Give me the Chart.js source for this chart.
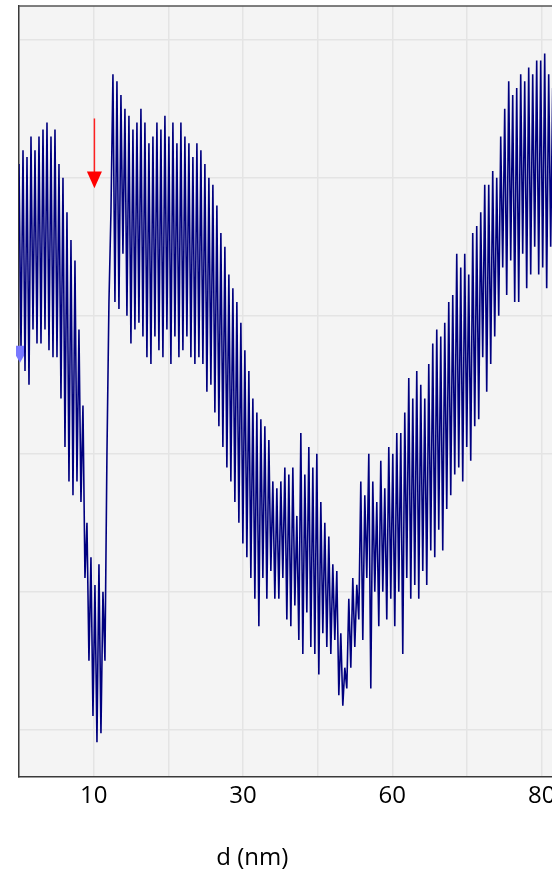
<!DOCTYPE html>
<html>
<head>
<meta charset="utf-8">
<script src="https://cdn.jsdelivr.net/npm/chart.js@4"></script>
<style>
  html, body { margin: 0; padding: 0; background: #fff; overflow: hidden; }
  #wrap { width: 600px; height: 875px; }
</style>
</head>
<body>
<div id="wrap"><canvas id="mychart" width="600" height="875"></canvas></div>
<script>

// x axis: one unit per grid cell, only every other line carries a label
const tickLabels = ['', '10', '', '30', '', '60', '', '80'];
const xTicks = [0, 1, 2, 3, 4, 5, 6, 7];
const yTicks = [0, 20, 40, 60, 80, 100];
const xTitle = 'd (nm)';

// signal, one sample every DX grid units
const DX = 0.02677;
const signal = [
  82, 55, 84, 52, 83, 50, 86, 58, 84, 56,
  86, 56, 87, 58, 88, 55, 86, 54, 87, 54,
  82, 48, 80, 41, 75, 36, 71, 34, 68, 36,
  58, 33, 47, 22, 30, 10, 25, 2, 21, -1.8,
  24, -0.5, 20, 10, 40, 62, 75, 95, 62, 94,
  61, 92, 69, 90, 60, 89, 56, 87, 58, 88,
  59, 90, 57, 88, 54, 85, 53, 86, 57, 88,
  55, 87, 54, 89, 58, 86, 53, 88, 57, 85,
  54, 88, 55, 86, 57, 85, 54, 83, 53, 85,
  54, 84, 53, 82, 49, 80, 50, 79, 46, 76,
  44, 72, 41, 70, 38, 66, 36, 64, 33, 62,
  30, 59, 27, 55, 25, 52, 22, 48, 19, 46,
  15, 45, 22, 44, 19, 42, 23, 36, 19, 35,
  19, 36, 22, 38, 16, 37, 15, 38, 18, 31,
  13, 43, 11, 37, 17, 41, 12, 38, 11, 40,
  8, 33, 14, 30, 12, 28, 11, 24, 13, 23,
  5, 14, 3.5, 9, 6, 19, 9, 22, 12, 21,
  16, 36, 13, 34, 22, 40, 6, 36, 20, 33,
  15, 39, 20, 35, 16, 41, 19, 40, 15, 43,
  20, 43, 11, 46, 22, 51, 19, 48, 21, 52,
  19, 50, 23, 48, 21, 53, 26, 56, 25, 58,
  29, 57, 26, 59, 32, 62, 34, 63, 37, 69,
  38, 67, 36, 69, 41, 66, 39, 72, 44, 73,
  45, 75, 54, 79, 49, 79, 53, 81, 57, 80,
  60, 86, 67, 90, 63, 94, 68, 92, 62, 93,
  62, 95, 69, 94, 64, 96, 66, 95, 70, 97,
  66, 97, 67, 98, 64, 95, 70, 93, 65, 92,
  71, 94, 68, 96, 70, 92
];

// red arrow, small blue cursor mark, axis title spot
const arrow = { x: 1.01, top: 88.6, head: 80.9, tip: 78.5 };
const cursorMark = { x: 0, y: 54.8 };
const titleAt = 3.125;

const points = signal.map((v, i) => ({ x: i * DX, y: v }));

const decor = {
  id: 'decor',
  beforeDraw(chart) {
    const { ctx, chartArea: a } = chart;
    ctx.save();
    ctx.fillStyle = '#ffffff';
    ctx.fillRect(0, 0, chart.width, chart.height);
    ctx.fillStyle = '#f4f4f4';
    ctx.fillRect(a.left, a.top, a.right - a.left, a.bottom - a.top);
    ctx.restore();
  },
  afterDraw(chart) {
    const { ctx, chartArea: a, scales } = chart;
    const x = scales.x, y = scales.y;
    ctx.save();
    ctx.strokeStyle = '#555';
    ctx.lineWidth = 1.5;
    ctx.beginPath();
    ctx.moveTo(a.left, a.top);
    ctx.lineTo(a.right, a.top);
    ctx.stroke();

    // arrow
    const ax = x.getPixelForValue(arrow.x);
    const yTop = y.getPixelForValue(arrow.top);
    const yHead = y.getPixelForValue(arrow.head);
    const yTip = y.getPixelForValue(arrow.tip);
    ctx.strokeStyle = '#ff2020';
    ctx.fillStyle = '#ff0000';
    ctx.lineWidth = 1.5;
    ctx.beginPath();
    ctx.moveTo(ax, yTop);
    ctx.lineTo(ax, yHead + 1);
    ctx.stroke();
    ctx.beginPath();
    ctx.moveTo(ax - 7.5, yHead);
    ctx.lineTo(ax + 7.5, yHead);
    ctx.lineTo(ax, yTip);
    ctx.closePath();
    ctx.fill();

    // cursor mark
    const mx = x.getPixelForValue(cursorMark.x);
    const my = y.getPixelForValue(cursorMark.y);
    ctx.fillStyle = '#7878ff';
    ctx.beginPath();
    ctx.moveTo(mx - 3, my - 6);
    ctx.lineTo(mx + 5, my - 6);
    ctx.lineTo(mx + 5, my + 4);
    ctx.lineTo(mx + 1, my + 11);
    ctx.lineTo(mx - 3, my + 4);
    ctx.closePath();
    ctx.fill();

    // axis title
    ctx.fillStyle = '#000';
    ctx.font = '24px "Open Sans", sans-serif';
    ctx.textAlign = 'center';
    ctx.textBaseline = 'middle';
    ctx.fillText(xTitle, x.getPixelForValue(titleAt), x.bottom - 17);
    ctx.restore();
  }
};

Chart.defaults.font.family = '"Open Sans", sans-serif';
Chart.defaults.color = '#000';

const ctx = document.getElementById('mychart').getContext('2d');
const myChart = new Chart(ctx, {
  type: 'line',
  data: {
    datasets: [{
      data: points,
      borderColor: '#00007f',
      borderWidth: 1.6,
      pointRadius: 0,
      tension: 0,
      fill: false
    }]
  },
  options: {
    responsive: false,
    animation: false,
    devicePixelRatio: 1,
    layout: { padding: { top: 6, left: 0, right: 21, bottom: 0 } },
    plugins: { legend: { display: false }, tooltip: { enabled: false } },
    scales: {
      x: {
        type: 'linear',
        min: 0,
        max: 7.5,
        afterBuildTicks(scale) { scale.ticks = xTicks.map(v => ({ value: v })); },
        afterFit(scale) { scale.height = 98.3; },
        ticks: {
          autoSkip: false,
          maxRotation: 0,
          padding: 5,
          font: { size: 24 },
          callback: v => tickLabels[v] || ''
        },
        grid: { color: '#e4e4e4', lineWidth: 1.5, drawTicks: false },
        border: { color: '#3a3a3a', width: 1.5 }
      },
      y: {
        min: -6.8,
        max: 104.9,
        afterBuildTicks(scale) { scale.ticks = yTicks.map(v => ({ value: v })); },
        afterFit(scale) { scale.width = 19; },
        ticks: { display: false },
        grid: { color: '#e4e4e4', lineWidth: 1.5, drawTicks: false },
        border: { color: '#3a3a3a', width: 1.5 }
      }
    }
  },
  plugins: [decor]
});
</script>
</body>
</html>
